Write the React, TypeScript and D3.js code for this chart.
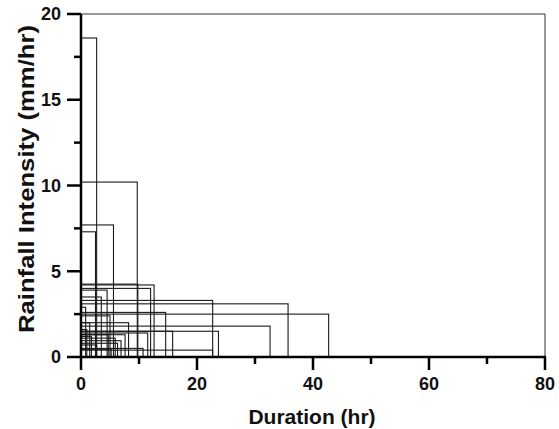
import React from "react";
import * as d3 from "d3";

// Each event: duration (hr) and mean rainfall intensity (mm/hr)
const durations = [
  2.7, 9.7, 5.6, 2.5, 12.6, 9.8, 12.0, 4.5, 22.7, 35.7, 14.6, 42.7, 5.0, 32.6,
  23.7, 15.8, 10.7, 22.7, 1.0, 4.7, 5.9, 6.9, 7.6, 2.7, 6.3, 5.2, 1.5, 3.5, 0.8,
  11.5, 8.2, 1.8,
];
const intensities = [
  18.6, 10.2, 7.7, 7.3, 4.2, 4.25, 4.0, 3.9, 3.3, 3.1, 2.6, 2.5, 2.4, 1.8, 1.5,
  1.5, 0.5, 0.4, 1.6, 1.3, 1.1, 0.95, 1.3, 0.7, 0.8, 0.45, 2.0, 3.5, 2.9, 1.4,
  2.0, 1.2,
];
const xMajorTicks = [0, 20, 40, 60, 80];
const xMinorTicks = [10, 30, 50, 70];
const yMajorTicks = [0, 5, 10, 15, 20];
const yMinorTicks = [2.5, 7.5, 12.5, 17.5];
const xTitle = "Duration (hr)";
const yTitle = "Rainfall Intensity (mm/hr)";

export default function App() {
  const W = 559;
  const H = 429;
  const left = 81;
  const right = 545;
  const top = 14;
  const bottom = 357;
  const x = d3.scaleLinear().domain([0, 80]).range([left, right]);
  const y = d3.scaleLinear().domain([0, 20]).range([bottom, top]);
  const font = "'Liberation Sans', Arial, Helvetica, sans-serif";

  const rects = durations.map((d, i) => ({ d, v: intensities[i] }));

  return (
    <svg
      width={W}
      height={H}
      style={{ position: "absolute", left: 0, top: 0, background: "#fff" }}
    >
      {rects.map((r, i) => (
        <rect
          key={i}
          x={x(0)}
          y={y(r.v)}
          width={x(r.d) - x(0)}
          height={y(0) - y(r.v)}
          fill="none"
          stroke="#1a1a1a"
          strokeWidth={1.1}
        />
      ))}
      {/* frame */}
      <line x1={left} x2={right} y1={top} y2={top} stroke="#333" strokeWidth={1} />
      <line x1={right} x2={right} y1={top} y2={bottom} stroke="#333" strokeWidth={1} />
      <line x1={left} x2={left} y1={top} y2={bottom + 1} stroke="#000" strokeWidth={2.5} />
      <line x1={left - 1} x2={right + 1} y1={bottom} y2={bottom} stroke="#000" strokeWidth={2.5} />
      {/* x ticks */}
      {xMajorTicks.map((t) => (
        <g key={"xm" + t}>
          <line x1={x(t)} x2={x(t)} y1={bottom} y2={bottom + 13} stroke="#000" strokeWidth={2.5} />
          <text
            x={x(t)}
            y={390}
            textAnchor="middle"
            fontFamily={font}
            fontWeight="bold"
            fontSize={18}
            fill="#111"
          >
            {t}
          </text>
        </g>
      ))}
      {xMinorTicks.map((t) => (
        <line key={"xn" + t} x1={x(t)} x2={x(t)} y1={bottom} y2={bottom + 7} stroke="#000" strokeWidth={2.5} />
      ))}
      {/* y ticks */}
      {yMajorTicks.map((t) => (
        <g key={"ym" + t}>
          <line x1={left - 14} x2={left} y1={y(t)} y2={y(t)} stroke="#000" strokeWidth={2.5} />
          <text
            x={61}
            y={y(t)}
            dy="0.36em"
            textAnchor="end"
            fontFamily={font}
            fontWeight="bold"
            fontSize={18}
            fill="#111"
          >
            {t}
          </text>
        </g>
      ))}
      {yMinorTicks.map((t) => (
        <line key={"yn" + t} x1={left - 7} x2={left} y1={y(t)} y2={y(t)} stroke="#000" strokeWidth={2.5} />
      ))}
      <text
        x={312}
        y={424}
        textAnchor="middle"
        fontFamily={font}
        fontWeight="bold"
        fontSize={21}
        fill="#111"
      >
        {xTitle}
      </text>
      <text
        transform={`translate(34,179) rotate(-90)`}
        textAnchor="middle"
        fontFamily={font}
        fontWeight="bold"
        fontSize={22}
        textLength={308}
        lengthAdjust="spacingAndGlyphs"
        fill="#111"
      >
        {yTitle}
      </text>
    </svg>
  );
}
